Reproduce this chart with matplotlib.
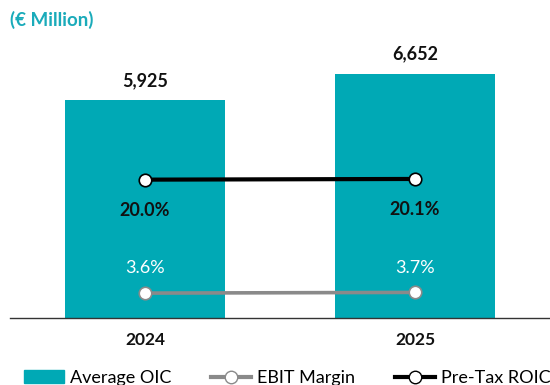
import numpy as np
import matplotlib.pyplot as plt
from matplotlib.lines import Line2D
from matplotlib.patches import Patch

plt.rcParams['font.family'] = ['Lato', 'DejaVu Sans']

years = ["2024", "2025"]
avg_oic = [5925, 6652]          # € million
ebit_margin = [3.6, 3.7]        # %
pretax_roic = [20.0, 20.1]      # %

teal = "#00A9B5"
grey = "#8A8A8A"

fig = plt.figure(figsize=(5.5, 3.85), dpi=100)
ax = fig.add_axes([10 / 550, 67 / 385, 540 / 550, 294 / 385])
x = np.arange(len(years))

bars = ax.bar(x, avg_oic, width=0.59, color=teal, zorder=1)
ax.set_xlim(-0.5, 1.5)
ax.set_ylim(0, 8000)
for xi, v in zip(x, avg_oic):
    ax.annotate(f"{v:,}", (xi, v), xytext=(0, 8), textcoords="offset points",
                ha="center", va="bottom", fontsize=13, fontweight="bold", color="#111111")

ax.set_xticks(x)
ax.set_xticklabels(years, fontsize=12.5, fontweight="bold", color="#111111")
ax.tick_params(axis="x", length=0, pad=10)
ax.set_yticks([])
for s in ["top", "left", "right"]:
    ax.spines[s].set_visible(False)
ax.spines["bottom"].set_color("#333333")
ax.spines["bottom"].set_linewidth(1)

# percentages on a second scale
ax2 = ax.twinx()
ax2.set_ylim(0, 42.5)
ax2.set_yticks([])
for s in ["top", "left", "right", "bottom"]:
    ax2.spines[s].set_visible(False)

ax2.plot(x, pretax_roic, color="black", lw=3, marker="o", ms=9,
         mfc="white", mec="black", mew=1.2, zorder=3)
ax2.plot(x, ebit_margin, color=grey, lw=2.6, marker="o", ms=9,
         mfc="white", mec=grey, mew=1.2, zorder=3)

for xi, v in zip(x, pretax_roic):
    ax2.annotate(f"{v:.1f}%", (xi, v), xytext=(0, -16), textcoords="offset points",
                 ha="center", va="top", fontsize=13, fontweight="bold", color="#111111")
for xi, v in zip(x, ebit_margin):
    ax2.annotate(f"{v:.1f}%", (xi, v), xytext=(0, 12), textcoords="offset points",
                 ha="center", va="bottom", fontsize=13, color="white")

fig.text(10 / 550, 1 - 20 / 385, "(€ Million)", color="#1AABBA", fontsize=13.5,
         fontweight="bold", ha="left", va="center")

handles = [
    Patch(color=teal),
    Line2D([], [], color=grey, lw=3, marker="o", ms=9, mfc="white", mec=grey),
    Line2D([], [], color="black", lw=3, marker="o", ms=9, mfc="white", mec="black"),
]
fig.legend(handles, ["Average OIC", "EBIT Margin", "Pre-Tax ROIC"], ncol=3,
           loc="center left", bbox_to_anchor=(8 / 550, 0.018), frameon=False, fontsize=13,
           handlelength=2.2, columnspacing=2.2, handletextpad=0.35)

fig.savefig("out.png", dpi=100)
